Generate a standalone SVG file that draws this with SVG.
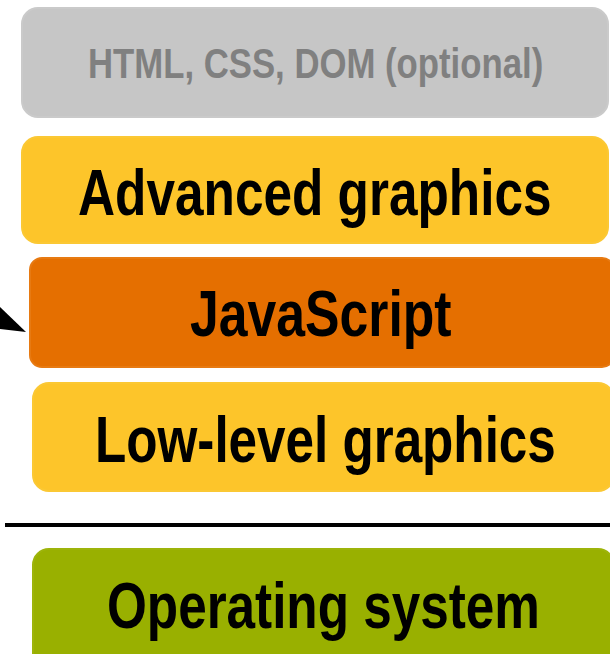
<svg xmlns="http://www.w3.org/2000/svg" width="610" height="654" viewBox="0 0 610 654">
<style>
.box{stroke-width:2}
.t{font-family:"Liberation Sans",Arial,sans-serif;font-weight:bold;text-anchor:start}
.big{font-size:64px;fill:#000}
</style>
<rect width="610" height="654" fill="#ffffff"/>
<g id="html">
<rect class="box" x="22" y="8" width="586" height="109" rx="16" fill="#c6c6c6" stroke="#cacaca"/>
<text class="t" transform="translate(88,78) scale(0.8,1)" x="0" y="0" font-size="43" fill="#808080" textLength="569" lengthAdjust="spacingAndGlyphs">HTML, CSS, DOM (optional)</text>
</g>
<g id="advanced">
<rect class="box" x="22" y="137" width="586" height="106" rx="16" fill="#fdc52a" stroke="#fbc834"/>
<text class="t big" transform="translate(78,215) scale(0.8,1)" x="0" y="0" textLength="592" lengthAdjust="spacingAndGlyphs">Advanced graphics</text>
</g>
<g id="javascript">
<rect class="box" x="30" y="258" width="584" height="109" rx="12" fill="#e56f00" stroke="#e77a12"/>
<text class="t big" transform="translate(190,336) scale(0.8,1)" x="0" y="0" textLength="327" lengthAdjust="spacingAndGlyphs">JavaScript</text>
</g>
<g id="lowlevel">
<rect class="box" x="33" y="383" width="581" height="108" rx="16" fill="#fdc52a" stroke="#fbc834"/>
<text class="t big" transform="translate(95,462) scale(0.8,1)" x="0" y="0" textLength="576" lengthAdjust="spacingAndGlyphs">Low-level graphics</text>
</g>
<g id="os">
<rect class="box" x="33" y="549" width="581" height="120" rx="16" fill="#99b000" stroke="#9db40a"/>
<text class="t big" transform="translate(107,628) scale(0.8,1)" x="0" y="0" textLength="541" lengthAdjust="spacingAndGlyphs">Operating system</text>
</g>
<g id="connectors">
<line x1="5" y1="525" x2="610" y2="525" stroke="#000" stroke-width="4"/>
<polygon points="0,307 26,332 0,329" fill="#000"/>
</g>
</svg>
